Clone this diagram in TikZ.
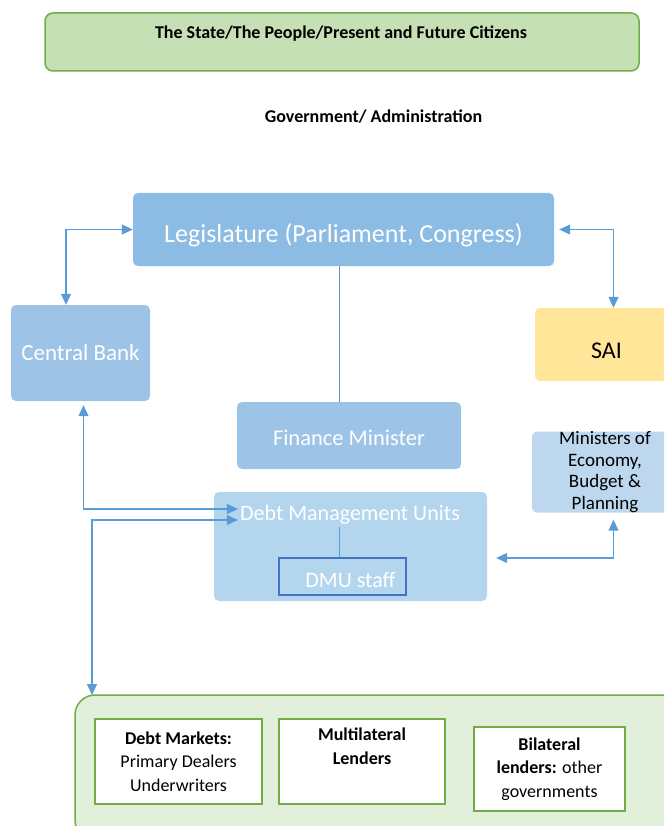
\documentclass[tikz,border=0pt]{standalone}
\usepackage{fontspec}
\setmainfont{Carlito}
\usetikzlibrary{arrows.meta}

\definecolor{citgreen}{HTML}{C5E0B4}
\definecolor{lendgreen}{HTML}{E2EFDA}
\definecolor{edgegreen}{HTML}{70AD47}
\definecolor{legblue}{HTML}{8CBCE3}
\definecolor{midblue}{HTML}{9DC3E6}
\definecolor{paleblue}{HTML}{B4D5EE}
\definecolor{minblue}{HTML}{BDD7EE}
\definecolor{arrowblue}{HTML}{5B9BD5}
\definecolor{staffblue}{HTML}{4472C4}
\definecolor{saiyellow}{HTML}{FFE699}

\begin{document}
\begin{tikzpicture}[x=1pt,y=-1pt,
    box/.style={rounded corners=5pt, inner sep=0pt},
    bluebox/.style={box, fill=#1, text=white},
    lender/.style={draw=edgegreen, line width=1.5pt, fill=white, inner sep=0pt,
        minimum height=85pt, align=center, font=\fontsize{18}{23.5}\selectfont},
    link/.style={draw=arrowblue, line width=1.1pt,
        {Triangle[length=11pt,width=10pt]}-{Triangle[length=11pt,width=10pt]}},
    stem/.style={draw=arrowblue, line width=0.9pt}]
    \clip (0,0) rectangle (664,826); % page size of the reference

    % top
    \node[box, rounded corners=8pt, fill=citgreen, draw=edgegreen, line width=1.5pt,
        minimum width=594pt, minimum height=58pt] (citizens) at (342,42) {};
    \node[font=\fontsize{18}{22}\selectfont\bfseries] (citlabel) at (341,34)
        {The State/The People/Present and Future Citizens};
    \node[font=\fontsize{18}{22}\selectfont\bfseries] (govlabel) at (373.5,117)
        {Government/ Administration};

    % government boxes
    \node[bluebox=legblue, minimum width=421pt, minimum height=73pt,
        text height=26pt, text depth=0pt,
        font=\fontsize{26}{30}\selectfont] (legis) at (343.5,229.5)
        {Legislature (Parliament, Congress)};
    \node[bluebox=midblue, minimum width=139pt, minimum height=96pt,
        font=\fontsize{23}{26}\selectfont] (cbank) at (80.5,353) {Central Bank};
    \node[box, fill=saiyellow, minimum width=143pt, minimum height=73pt,
        text height=28pt, text depth=0pt,
        font=\fontsize{24}{28}\selectfont] (sai) at (606.5,344.5) {SAI};
    \node[bluebox=midblue, minimum width=224pt, minimum height=67pt,
        text height=20pt, text depth=0pt,
        font=\fontsize{22.5}{26}\selectfont] (finmin) at (349,435.5) {Finance Minister};
    \node[box, fill=minblue, minimum width=146pt, minimum height=81pt, align=center,
        font=\fontsize{19}{21.5}\selectfont] (minis) at (605,472)
        {Ministers of\\Economy,\\Budget \&\\Planning};

    % debt management
    \node[bluebox=paleblue, minimum width=273pt, minimum height=109pt] (dmu) at (350.5,546.5) {};
    \node[text=white, inner sep=2pt, font=\fontsize{22}{26}\selectfont] (dmutext) at (350,515)
        {Debt Management Units};
    \node[draw=staffblue, line width=1.5pt, minimum width=127pt, minimum height=37pt] (staff)
        at (342.5,576.5) {};
    \node[text=white, inner sep=0pt, font=\fontsize{22}{26}\selectfont] (stafftext) at (350.5,580)
        {DMU staff};

    % lenders
    \node[box, rounded corners=20pt, fill=lendgreen, draw=edgegreen, line width=1.5pt,
        minimum width=615pt, minimum height=145pt] (lenders) at (382.5,767.5) {};
    \node[lender, minimum width=167pt] (market) at (178.5,761.5)
        {\textbf{Debt Markets:}\\Primary Dealers\\Underwriters};
    \node[lender, minimum width=166pt] (multi) at (362,761.5)
        {\textbf{Multilateral}\\\textbf{Lenders}\\\strut};
    \node[lender, minimum width=151pt, minimum height=84pt] (bilat) at (549.5,769)
        {\textbf{Bilateral}\\\textbf{lenders:} other\\governments};

    % connectors
    \coordinate (legstem) at ([xshift=-4.5pt]legis.south);
    \draw[stem] (legstem) -- (legstem |- finmin.north);
    \coordinate (stemtop) at (339,527);
    \draw[stem] (stemtop) -- (stemtop |- staff.north);
    \coordinate (lendtop) at (92,695);

    \draw[link] (legis.west) -| ([xshift=-14.5pt]cbank.north);
    \draw[link] ([xshift=5pt]legis.east) -| ([xshift=7pt]sai.north);
    \draw[link] ([xshift=3pt,yshift=-4pt]cbank.south) |- ([yshift=6pt]dmutext.west);
    \draw[link] ([yshift=-5pt]dmutext.west) -| (lendtop);
    \draw[link] ([xshift=9pt,yshift=-11.5pt]dmu.east) -| ([xshift=8.5pt,yshift=-7pt]minis.south);
\end{tikzpicture}
\end{document}
